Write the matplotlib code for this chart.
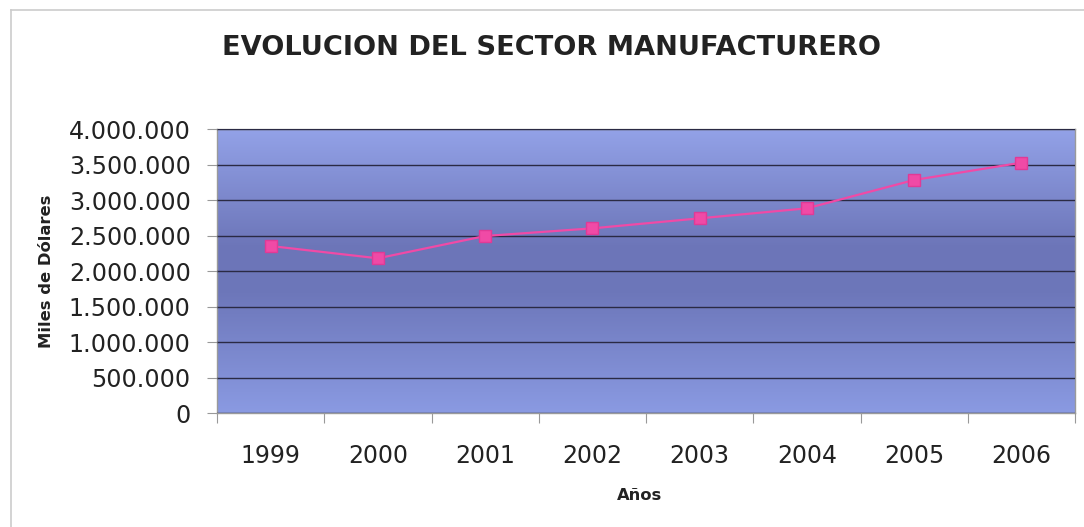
import matplotlib.pyplot as plt
import numpy as np
from matplotlib.colors import LinearSegmentedColormap
from matplotlib.lines import Line2D
from matplotlib.ticker import FuncFormatter

# Producción manufacturera anual (miles de dólares)
anios = ['1999', '2000', '2001', '2002', '2003', '2004', '2005', '2006']
valores = [2352000, 2179000, 2493000, 2601000, 2742000, 2883000, 3282000, 3526000]
y_ticks = [0, 500000, 1000000, 1500000, 2000000, 2500000, 3000000, 3500000, 4000000]

fig = plt.figure(figsize=(10.84, 5.27), dpi=100)
ax = fig.add_axes([0.2002, 0.2163, 0.7915, 0.5389])

x = np.arange(len(anios))
ax.set_xlim(-0.5, len(anios) - 0.5)
ax.set_ylim(0, 4000000)

# fondo degradado: claro arriba y abajo, oscuro al centro
fondo = LinearSegmentedColormap.from_list(
    'fondo', [(0.0, '#8a9ae2'), (0.42, '#6d77ba'), (0.58, '#6c75b8'), (1.0, '#93a2e8')])
grad = np.linspace(0, 1, 256).reshape(-1, 1)
ax.imshow(grad, cmap=fondo, aspect='auto', origin='lower',
          extent=[-0.5, len(anios) - 0.5, 0, 4000000], zorder=0)

ax.set_yticks(y_ticks)
ax.yaxis.set_major_formatter(FuncFormatter(lambda v, p: f'{int(v):,}'.replace(',', '.')))
ax.grid(axis='y', color='#2a2a44', linewidth=1.0, zorder=1)
ax.set_axisbelow(False)

ax.plot(x, valores, color='#f04aa6', linewidth=1.6, marker='s', markersize=9,
        markerfacecolor='#f04aa6', markeredgecolor='#e03a96', zorder=3)

# marcas del eje x entre categorías, etiquetas en el centro
ax.set_xticks(np.arange(-0.5, len(anios)))
ax.set_xticklabels([])
ax.set_xticks(x, minor=True)
ax.set_xticklabels(anios, minor=True, fontsize=17, color='#222222')
ax.tick_params(axis='x', which='major', direction='out', length=7, color='#999999')
ax.tick_params(axis='x', which='minor', length=0, pad=22)
ax.tick_params(axis='y', direction='out', length=7, color='#999999',
               labelsize=17.2, labelcolor='#222222', pad=12)

for s in ax.spines.values():
    s.set_color('#9a9a9a')
    s.set_linewidth(1)

fig.text(47 / 1084, 1 - 271 / 527, 'Miles de Dólares', rotation=90, ha='center', va='center',
         fontsize=11.8, fontweight='bold', color='#222222')
fig.text(640 / 1084, 1 - 496 / 527, 'Años', ha='center', va='center',
         fontsize=11.8, fontweight='bold', color='#222222')
fig.text(551 / 1084, 1 - 48 / 527, 'EVOLUCION DEL SECTOR MANUFACTURERO', ha='center', va='center',
         fontsize=19.6, fontweight='bold', color='#222222')

# marco del gráfico (arriba e izquierda)
fig.add_artist(Line2D([11 / 1084, 1], [1 - 10 / 527, 1 - 10 / 527], color='#cccccc', linewidth=1.2))
fig.add_artist(Line2D([11 / 1084, 11 / 1084], [0, 1 - 10 / 527], color='#cccccc', linewidth=1.2))

fig.savefig('out.png', dpi=100)
